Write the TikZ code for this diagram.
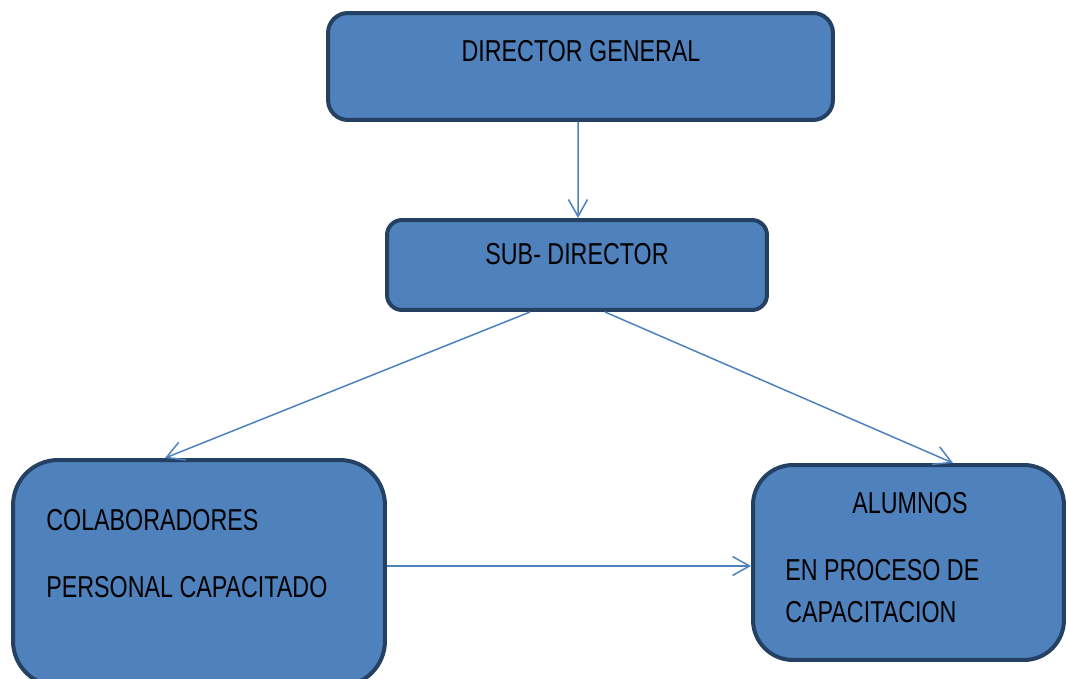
\documentclass[tikz,border=0pt]{standalone}
\usepackage{fontspec}
\setmainfont[FakeStretch=0.77]{Liberation Sans}
\usepackage{xcolor}
\usetikzlibrary{arrows.meta}
\definecolor{boxfill}{RGB}{79,129,189}
\definecolor{boxline}{RGB}{36,64,98}
\tikzstyle{blue box}=[
    draw = boxline,
    line width = 0.08cm,
    fill = boxfill,
    rectangle
]

\begin{document}
\begin{tikzpicture}[x=0.02cm, y=-0.02cm, main/.style = {inner sep=0pt, font=\fontsize{17.2}{20}\selectfont},
    link/.style = {draw=boxfill, line width=0.03cm, -{Straight Barb[length=0.34cm, width=0.38cm]}}]
        \clip (0,0) rectangle (1066,679);
        \fill[white] (0,0) rectangle (1066,679);

        \node[blue box, minimum width=10.1cm, minimum height=2.14cm, rounded corners=0.4cm] (1) at (580.5,66.5) {};
        \node[blue box, minimum width=7.6cm, minimum height=1.8cm, rounded corners=0.3cm] (2) at (577,265) {};
        \node[blue box, minimum width=7.44cm, minimum height=4.52cm, rounded corners=0.9cm] (3) at (199,573) {};
        \node[blue box, minimum width=6.22cm, minimum height=3.9cm, rounded corners=0.8cm] (4) at (908.5,562.5) {};

        \node[main, anchor=base] (t1) at (581,62) {DIRECTOR GENERAL};
        \node[main, anchor=base] (t2) at (577,264) {SUB- DIRECTOR};
        \node[main, anchor=base west] (t3) at (46,530) {COLABORADORES};
        \node[main, anchor=base west] (t4) at (46,597) {PERSONAL CAPACITADO};
        \node[main, anchor=base] (t5) at (910,513) {ALUMNOS};
        \node[main, anchor=base west] (t6) at (785,580) {EN PROCESO DE};
        \node[main, anchor=base west] (t7) at (785,622) {CAPACITACION};

        \draw[link] ([xshift=-0.05cm]1.south) -- ([xshift=0.02cm]2.north);
        \draw[link] ([xshift=-0.94cm]2.south) -- ([xshift=-0.68cm]3.north);
        \draw[link] ([xshift=0.56cm]2.south) -- ([xshift=0.89cm]4.north);
        \draw[link] ([yshift=0.14cm]3.east) -- ([yshift=0.14cm]3.east -| 4.west);

    \end{tikzpicture}
\end{document}
